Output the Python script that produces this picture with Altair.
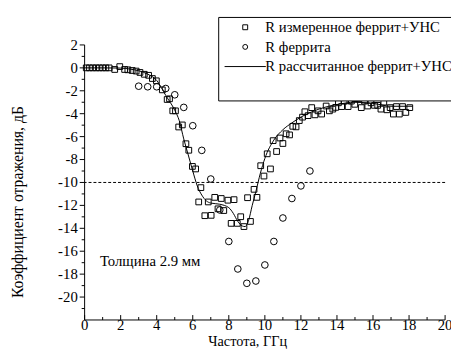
import altair as alt
import pandas as pd

# ---- data ----
meas_f = [0.09, 0.27, 0.45, 0.64, 0.82, 1.0, 1.18, 1.36, 1.67, 1.95, 2.22, 2.40, 2.64, 2.86,
          3.07, 3.31, 3.55, 3.76, 3.98, 4.31, 4.58, 4.71, 4.89, 5.04, 5.22, 5.42, 5.62, 5.78,
          5.98, 6.16, 6.33, 6.45, 6.67, 6.86, 7.02, 7.22, 7.40, 7.58, 7.72, 7.95, 8.13, 8.29,
          8.47, 8.66, 8.84, 9.04, 9.20, 9.40, 9.56, 9.77, 9.95, 10.13, 10.31, 10.46, 10.65,
          10.84, 11.0, 11.18, 11.37, 11.55, 11.73, 11.91, 12.09, 12.22, 12.40, 12.60, 12.78,
          12.95, 13.15, 13.40, 13.58, 13.77, 13.93, 14.08, 14.26, 14.40, 14.62, 14.80, 14.99,
          15.17, 15.35, 15.53, 15.71, 15.89, 16.08, 16.26, 16.44, 16.60, 16.77, 16.95, 17.13,
          17.30, 17.46, 17.64, 17.82, 18.04]
meas_v = [0.0, 0.0, 0.0, 0.0, 0.0, 0.0, 0.0, 0.0, -0.14, 0.11, -0.14, -0.17, -0.23, -0.28,
          -0.4, -0.56, -0.65, -0.93, -1.13, -1.92, -2.76, -2.7, -3.75, -3.75, -5.16, -4.98, -6.62, -7.19,
          -8.6, -8.82, -11.7, -10.45, -12.9, -11.7, -12.87, -11.3, -12.3, -11.4, -12.45, -11.55, -13.57, -11.5,
          -13.57, -12.99, -13.85, -11.33, -13.4, -10.6, -11.3, -8.54, -9.44, -7.5, -8.82, -6.35, -7.3,
          -6.12, -6.6, -5.75, -5.85, -5.1, -5.15, -4.6, -4.3, -3.83, -4.17, -3.47, -4.1,
          -3.75, -4.03, -3.33, -3.75, -3.6, -3.45, -3.05, -3.38, -2.9, -3.38, -2.9, -3.18,
          -2.7, -3.47, -2.9, -3.33, -3.05, -3.27, -3.27, -3.6, -2.99, -3.66, -3.47, -4.03,
          -3.38, -4.03, -3.38, -3.89, -3.47]

ferr_f = [3.0, 3.5, 4.0, 4.5, 5.0, 5.5, 6.0, 6.5, 7.0, 7.5, 8.0, 8.5, 9.0, 9.5, 10.0, 10.5,
          11.0, 11.5, 12.0, 12.5]
ferr_v = [-1.6, -1.65, -1.65, -1.8, -2.35, -3.45, -5.05, -7.2, -9.7, -12.4, -15.15, -17.55,
          -18.8, -18.6, -17.2, -15.15, -13.1, -11.4, -10.3, -9.0]

calc_f = [0, 1, 2, 2.5, 3.0, 3.5, 4.0, 4.5, 5.0, 5.25, 5.5, 5.75, 6.0, 6.25, 6.5, 6.75, 7.0,
          7.5, 8.0, 8.25, 8.5, 8.75, 8.9, 9.1, 9.3, 9.5, 9.75, 10.0, 10.5, 11.0, 11.5, 12.0,
          13.0, 14.0, 15.0, 16.0, 17.0, 18.2]
calc_v = [0, 0, -0.02, -0.1, -0.25, -0.55, -1.1, -2.4, -3.7, -4.6, -6.2, -7.6, -9.0, -10.3,
          -11.1, -11.6, -11.8, -11.9, -12.2, -12.7, -13.4, -13.8, -13.85, -13.3, -12.0, -10.8,
          -9.2, -7.9, -6.3, -5.4, -4.8, -4.3, -3.6, -3.2, -3.0, -3.1, -3.35, -3.35]

series_names = ["R измеренное феррит+УНС", "R феррита", "R рассчитанное феррит+УНС"]
threshold = [-10]
note_text = ["Толщина 2.9 мм"]
note_x = [0.85]
note_y = [-16.9]
x_title = "Частота, ГГц"
y_title = "Коэффициент отражения, дБ"

x_major = list(range(0, 21, 2))
x_minor = list(range(1, 20, 2))
y_major = list(range(-20, 3, 2))
y_minor = list(range(-21, 2, 2))

FONT = "Liberation Serif"
W, H = 367, 280

points = pd.DataFrame({
    "f": meas_f + ferr_f,
    "v": meas_v + ferr_v,
    "s": [series_names[0]] * len(meas_f) + [series_names[1]] * len(ferr_f),
})
line_df = pd.DataFrame({"f": calc_f, "v": calc_v})
xt_df = pd.DataFrame({"x": x_major, "lab": [str(v) for v in x_major]})
yt_df = pd.DataFrame({"y": y_major, "lab": [str(v) for v in y_major]})

xs = alt.Scale(domain=[0, 20], nice=False, zero=False)
ys = alt.Scale(domain=[-22, 2], nice=False, zero=False)
X = lambda f: alt.X(f, scale=xs, axis=None)
Y = lambda f: alt.Y(f, scale=ys, axis=None)

legend = alt.Legend(
    orient="none", legendX=136, legendY=-28.5, title=" ", titleOrient="bottom",
    titleFontSize=15, titlePadding=8, padding=3, strokeColor="black", fillColor="white",
    labelFontSize=15, labelLimit=400,
    symbolSize=25, symbolStrokeColor="black", symbolStrokeWidth=1,
    symbolFillColor="transparent", symbolOffset=17, labelOffset=13, rowPadding=4,
)

pts = alt.Chart(points).mark_point(filled=False, color="black", strokeWidth=1, opacity=1).encode(
    x=X("f:Q"), y=Y("v:Q"),
    shape=alt.Shape("s:N", scale=alt.Scale(domain=series_names,
                                           range=["square", "circle", "M-8.4,0H8.4"]),
                    legend=legend),
    size=alt.condition(alt.datum.s == series_names[1], alt.value(46), alt.value(34)),
)

line = alt.Chart(line_df).mark_line(color="black", strokeWidth=1, interpolate="monotone").encode(
    x=X("f:Q"), y=Y("v:Q"))

dash = alt.Chart(pd.DataFrame({"t": threshold})).mark_rule(
    color="black", strokeWidth=1, strokeDash=[3, 2]).encode(y=Y("t:Q"))

note = alt.Chart(pd.DataFrame({"x": note_x, "y": note_y, "t": note_text})).mark_text(
    align="left", baseline="middle", fontSize=15, color="black").encode(
    x=X("x:Q"), y=Y("y:Q"), text="t:N")

# axes drawn from the tick lists
one = pd.DataFrame({"a": [0]})
x_dom = alt.Chart(one).mark_rule(color="black").encode(
    x=alt.value(0), x2=alt.value(W), y=alt.value(H))
y_dom = alt.Chart(one).mark_rule(color="black").encode(
    x=alt.value(0), y=alt.value(0), y2=alt.value(H))
xt_major = alt.Chart(xt_df).mark_rule(color="black").encode(
    x=X("x:Q"), y=alt.value(H), y2=alt.value(H - 5))
xt_minor = alt.Chart(pd.DataFrame({"x": x_minor})).mark_rule(color="black").encode(
    x=X("x:Q"), y=alt.value(H), y2=alt.value(H - 3))
yt_major = alt.Chart(yt_df).mark_rule(color="black").encode(
    y=Y("y:Q"), x=alt.value(0), x2=alt.value(-5))
yt_minor = alt.Chart(pd.DataFrame({"y": y_minor})).mark_rule(color="black").encode(
    y=Y("y:Q"), x=alt.value(0), x2=alt.value(-3))
x_labels = alt.Chart(xt_df).mark_text(align="center", baseline="alphabetic", fontSize=15,
                                      color="black").encode(
    x=X("x:Q"), y=alt.value(H + 10), text="lab:N")
y_labels = alt.Chart(yt_df).mark_text(align="right", baseline="middle", fontSize=15,
                                      color="black").encode(
    y=Y("y:Q"), x=alt.value(-7), text="lab:N")
x_tl = alt.Chart(pd.DataFrame({"t": [x_title]})).mark_text(
    align="center", baseline="alphabetic", fontSize=14.5, color="black").encode(
    x=alt.value(166), y=alt.value(H + 26), text="t:N")
y_tl = alt.Chart(pd.DataFrame({"t": [y_title]})).mark_text(
    align="center", baseline="middle", fontSize=16, angle=270, color="black").encode(
    x=alt.value(-68), y=alt.value(160), text="t:N")

chart = alt.layer(dash, line, pts, note, x_dom, y_dom, xt_major, xt_minor, yt_major,
                  yt_minor, x_labels, y_labels, x_tl, y_tl).properties(
    width=W, height=H,
    autosize=alt.AutoSizeParams(type="none"),
    padding={"left": 78, "top": 34.5, "right": 6, "bottom": 30},
    background="white",
).configure(font=FONT).configure_view(stroke="transparent").configure_legend(
    labelFont=FONT, titleFont=FONT, labelColor="black").configure_text(font=FONT)

chart.save("out.html", embed_options={"renderer": "svg", "actions": False})
